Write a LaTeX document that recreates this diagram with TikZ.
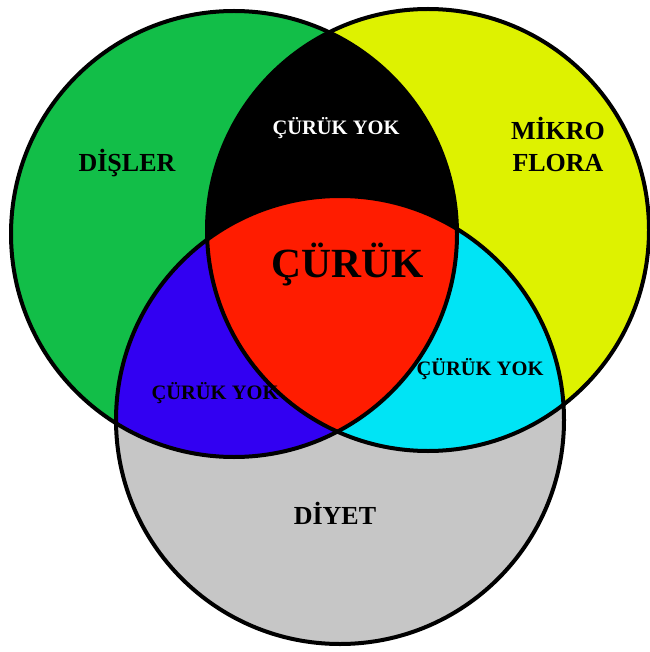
\documentclass[tikz,border=0pt]{standalone}
\usepackage{fontspec}
\setmainfont{Liberation Serif}
\definecolor{dgreen}{RGB}{18,190,72}
\definecolor{dyellow}{RGB}{222,242,0}
\definecolor{dgray}{RGB}{198,198,198}
\definecolor{dblue}{RGB}{50,0,242}
\definecolor{dred}{RGB}{255,28,0}
\definecolor{dcyan}{RGB}{0,228,245}
\tikzset{
  outline/.style={draw=black, line width=4pt},
  lbl/.style={font=\bfseries\fontsize{26}{30}\selectfont, inner sep=0pt, anchor=base},
  smalllbl/.style={font=\bfseries\fontsize{20.5}{24}\selectfont, inner sep=0pt, anchor=base},
  biglbl/.style={font=\bfseries\fontsize{41.5}{48}\selectfont, inner sep=0pt, anchor=base}
}
\begin{document}
\begin{tikzpicture}[x=1pt,y=-1pt]
\useasboundingbox (0,0) rectangle (649,652);
\coordinate (G) at (234,234);
\coordinate (Y) at (428,230);
\coordinate (D) at (340,420);
\def\rG{223pt}
\def\rY{221pt}
\def\rD{224pt}
% single fills
\fill[dgreen] (G) circle[radius=\rG];
\fill[dyellow] (Y) circle[radius=\rY];
\fill[dgray] (D) circle[radius=\rD];
% pair intersections
\begin{scope}
  \clip (G) circle[radius=\rG];
  \fill[black] (Y) circle[radius=\rY];
  \fill[dblue] (D) circle[radius=\rD];
\end{scope}
\begin{scope}
  \clip (Y) circle[radius=\rY];
  \fill[dcyan] (D) circle[radius=\rD];
\end{scope}
% triple intersection
\begin{scope}
  \clip (G) circle[radius=\rG];
  \clip (Y) circle[radius=\rY];
  \fill[dred] (D) circle[radius=\rD];
\end{scope}
% outlines
\draw[outline] (G) circle[radius=\rG];
\draw[outline] (Y) circle[radius=\rY];
\draw[outline] (D) circle[radius=\rD];
% labels
\node[lbl] (disler) at (127,172) {DİŞLER};
\node[lbl] (mikro) at (558,140) {MİKRO};
\node[lbl] (flora) at (558,172) {FLORA};
\node[lbl] (diyet) at (335,524) {DİYET};
\node[biglbl] (curuk) at (348,277) {ÇÜRÜK};
\node[smalllbl, text=white] (yok1) at (336,135) {ÇÜRÜK YOK};
\node[smalllbl] (yok2) at (215,399) {ÇÜRÜK YOK};
\node[smalllbl] (yok3) at (480,375) {ÇÜRÜK YOK};
\end{tikzpicture}
\end{document}
